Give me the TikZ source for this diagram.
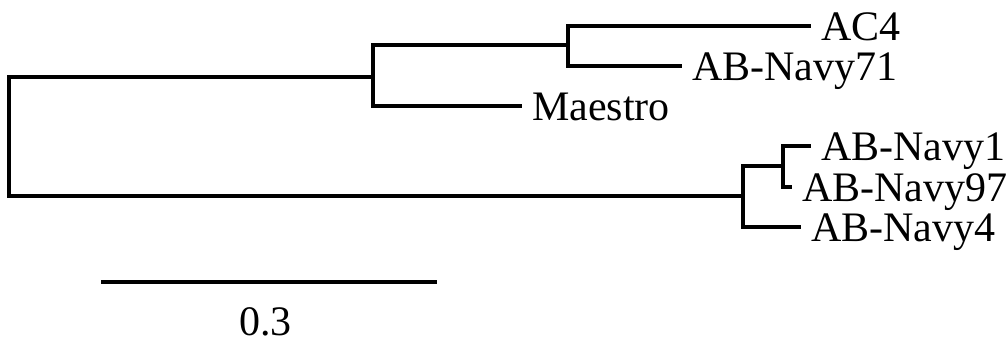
\documentclass[tikz,border=0pt]{standalone}
\usepackage{fontspec}
\setmainfont{Liberation Serif}
\begin{document}
\begin{tikzpicture}[x=1pt,y=-1pt,
  branch/.style={line width=3.3pt,line join=miter},
  leaf/.style={anchor=west,inner xsep=10pt,inner ysep=0pt,
    text height=28pt,text depth=0pt,
    font=\fontsize{42}{50}\selectfont},
  scalelabel/.style={anchor=base,inner sep=0pt,
    font=\fontsize{42}{50}\selectfont}]
\useasboundingbox (0,0) rectangle (1008,341);

% internal nodes (x = depth, y = where the parent edge attaches)
\coordinate (root) at (9,136.5);
\coordinate (cA)   at (373,77);
\coordinate (cB)   at (568,45);
\coordinate (cC)   at (743,196);
\coordinate (cD)   at (783,166);

% leaves
\node[leaf] (ac4)    at (811,26)  {AC4};
\node[leaf] (nav71)  at (682,66)  {AB-Navy71};
\node[leaf] (maes)   at (522,106) {Maestro};
\node[leaf] (nav1)   at (811,146) {AB-Navy1};
\node[leaf] (nav97)  at (792,187) {AB-Navy97};
\node[leaf] (nav4)   at (801,227) {AB-Navy4};

% edges
\draw[branch] (root) |- (cA);
\draw[branch] (root) |- (cC);
\draw[branch] (cA) |- (cB);
\draw[branch] (cA) |- (maes.west);
\draw[branch] (cB) |- (ac4.west);
\draw[branch] (cB) |- (nav71.west);
\draw[branch] (cC) |- (cD);
\draw[branch] (cC) |- (nav4.west);
\draw[branch] (cD) |- (nav1.west);
\draw[branch] (cD) |- (nav97.west);

% scale bar
\coordinate (sbL) at (101,282);
\coordinate (sbR) at (437,282);
\draw[branch] (sbL) -- (sbR);
\node[scalelabel] (sblab) at (265.5,335) {0.3};
\end{tikzpicture}
\end{document}
